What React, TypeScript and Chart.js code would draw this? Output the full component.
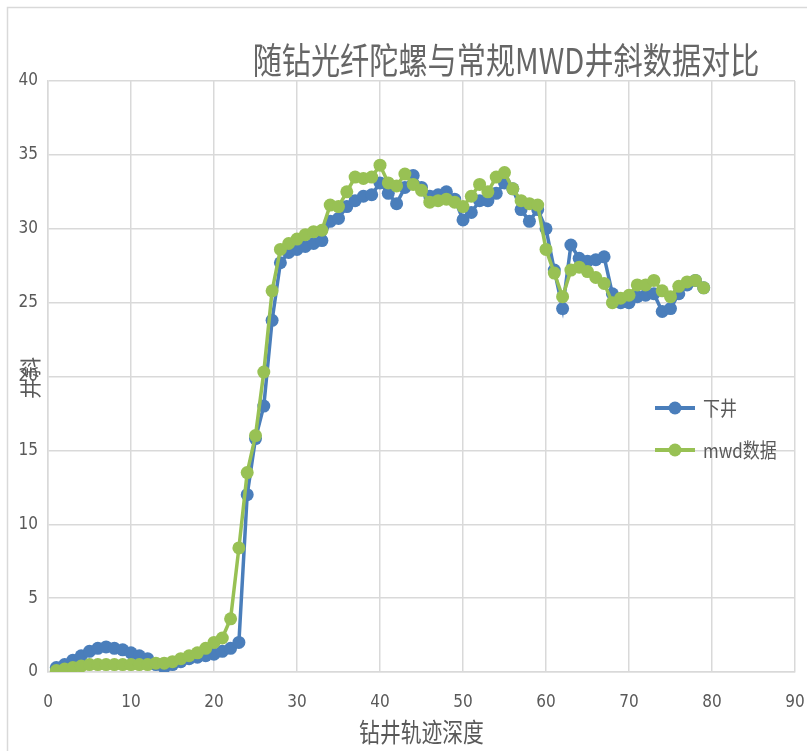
import { useEffect, useRef } from 'react';
import { Chart, registerables } from 'chart.js';

Chart.register(...registerables);

const chartTitle = '随钻光纤陀螺与常规MWD井斜数据对比';
const xAxisTitle = '钻井轨迹深度';
const yAxisTitle = '井斜';
const seriesNames = ['下井', 'mwd数据'];
const seriesColors = ['#4a7ebb', '#98c154'];

const depth = [
  1, 2, 3, 4, 5, 6, 7, 8, 9, 10,
  11, 12, 13, 14, 15, 16, 17, 18, 19, 20,
  21, 22, 23, 24, 25, 26, 27, 28, 29, 30,
  31, 32, 33, 34, 35, 36, 37, 38, 39, 40,
  41, 42, 43, 44, 45, 46, 47, 48, 49, 50,
  51, 52, 53, 54, 55, 56, 57, 58, 59, 60,
  61, 62, 63, 64, 65, 66, 67, 68, 69, 70,
  71, 72, 73, 74, 75, 76, 77, 78, 79,
];

const downhole = [
  0.3, 0.5, 0.8, 1.1, 1.4, 1.6, 1.7, 1.6, 1.5, 1.3,
  1.1, 0.9, 0.5, 0.3, 0.5, 0.7, 0.9, 1.0, 1.1, 1.2,
  1.4, 1.6, 2.0, 12.0, 15.8, 18.0, 23.8, 27.7, 28.4, 28.6,
  28.8, 29.0, 29.2, 30.5, 30.7, 31.5, 31.9, 32.2, 32.3, 33.1,
  32.4, 31.7, 32.8, 33.6, 32.8, 32.2, 32.3, 32.5, 32.0, 30.6,
  31.1, 31.9, 31.9, 32.4, 33.1, 32.7, 31.3, 30.5, 31.3, 30.0,
  27.2, 24.6, 28.9, 28.0, 27.8, 27.9, 28.1, 25.6, 25.0, 25.0,
  25.4, 25.5, 25.6, 24.4, 24.6, 25.6, 26.2, 26.5, 26.0,
];

const mwd = [
  0.1, 0.2, 0.3, 0.4, 0.5, 0.5, 0.5, 0.5, 0.5, 0.5,
  0.5, 0.5, 0.6, 0.6, 0.7, 0.9, 1.1, 1.3, 1.6, 2.0,
  2.3, 3.6, 8.4, 13.5, 16.0, 20.3, 25.8, 28.6, 29.0, 29.3,
  29.6, 29.8, 29.9, 31.6, 31.5, 32.5, 33.5, 33.4, 33.5, 34.3,
  33.1, 32.9, 33.7, 33.0, 32.6, 31.8, 31.9, 32.0, 31.8, 31.5,
  32.2, 33.0, 32.5, 33.5, 33.8, 32.7, 31.9, 31.7, 31.6, 28.6,
  27.0, 25.4, 27.2, 27.4, 27.1, 26.7, 26.3, 25.0, 25.3, 25.5,
  26.2, 26.2, 26.5, 25.8, 25.4, 26.1, 26.4, 26.5, 26.0,
];

const CJK = '"Noto Sans CJK SC", "Noto Sans", sans-serif';
const NUM = '"Liberation Sans Narrow", "DejaVu Sans Condensed", "Liberation Sans", sans-serif';
const TEXT = '#595959';
const GRID = '#d9d9d9';

function drawText(
  ctx: CanvasRenderingContext2D,
  text: string,
  x: number,
  y: number,
  size: number,
  color: string,
  scaleX: number,
  align: CanvasTextAlign,
  rotate = 0,
) {
  ctx.save();
  ctx.translate(x, y);
  if (rotate) ctx.rotate(rotate);
  ctx.scale(scaleX, 1);
  ctx.font = `${size}px ${CJK}`;
  ctx.fillStyle = color;
  ctx.textAlign = align;
  ctx.textBaseline = 'middle';
  ctx.fillText(text, 0, 0);
  ctx.restore();
}

const decor = {
  id: 'decor',
  beforeDraw(chart: any) {
    const ctx = chart.ctx as CanvasRenderingContext2D;
    ctx.save();
    ctx.fillStyle = '#ffffff';
    ctx.fillRect(0, 0, chart.width, chart.height);
    ctx.strokeStyle = GRID;
    ctx.lineWidth = 1.5;
    ctx.strokeRect(7.5, 7.5, chart.width + 20, chart.height + 20);
    ctx.restore();
  },
  afterDraw(chart: any) {
    const ctx = chart.ctx as CanvasRenderingContext2D;
    const area = chart.chartArea;
    drawText(ctx, chartTitle, 506, 60, 36, '#666666', 0.81, 'center');
    drawText(ctx, xAxisTitle, (area.left + area.right) / 2, 732, 26, TEXT, 0.8, 'center');
    drawText(ctx, yAxisTitle, 30, 378, 21, TEXT, 1, 'center', -Math.PI / 2);

    const items = chart.data.datasets;
    const legendYs = [408, 450];
    items.forEach((ds: any, i: number) => {
      const y = legendYs[i];
      ctx.save();
      ctx.strokeStyle = ds.borderColor;
      ctx.lineWidth = 4;
      ctx.beginPath();
      ctx.moveTo(655, y);
      ctx.lineTo(695, y);
      ctx.stroke();
      ctx.fillStyle = ds.borderColor;
      ctx.beginPath();
      ctx.arc(675, y, 6.5, 0, Math.PI * 2);
      ctx.fill();
      ctx.restore();
      drawText(ctx, ds.label, 703, y, 20, TEXT, 0.85, 'left');
    });
  },
};

export default function App() {
  const ref = useRef<HTMLCanvasElement>(null);

  useEffect(() => {
    if (!ref.current) return;
    const tickFont = { family: NUM, size: 17 };
    const mk = (values: number[], i: number, order: number) => ({
      label: seriesNames[i],
      data: depth.map((x, k) => ({ x, y: values[k] })),
      borderColor: seriesColors[i],
      backgroundColor: seriesColors[i],
      pointBackgroundColor: seriesColors[i],
      pointBorderColor: seriesColors[i],
      pointBorderWidth: 0,
      pointRadius: 6.5,
      pointHoverRadius: 6.5,
      borderWidth: 3.5,
      tension: 0,
      order,
    });
    const chart = new Chart(ref.current, {
      type: 'line',
      data: {
        datasets: [mk(downhole, 0, 1), mk(mwd, 1, 0)],
      },
      options: {
        responsive: false,
        animation: false,
        devicePixelRatio: 1,
        layout: { padding: { top: 81, right: 12, left: 0, bottom: 0 } },
        plugins: {
          legend: { display: false },
          title: { display: false },
          tooltip: { enabled: false },
        },
        scales: {
          x: {
            type: 'linear',
            min: 0,
            max: 90,
            ticks: {
              stepSize: 10,
              autoSkip: false,
              maxRotation: 0,
              font: tickFont,
              color: TEXT,
              padding: 20,
            },
            grid: { color: GRID, lineWidth: 1.5, drawTicks: false },
            border: { color: GRID, width: 1.5 },
            afterFit: (s: any) => {
              s.height = 79;
              s.paddingLeft = 0;
              s.paddingRight = 0;
            },
          },
          y: {
            type: 'linear',
            min: 0,
            max: 40,
            ticks: {
              stepSize: 5,
              autoSkip: false,
              font: tickFont,
              color: TEXT,
              padding: 10,
            },
            grid: { color: GRID, lineWidth: 1.5, drawTicks: false },
            border: { color: GRID, width: 1.5 },
            afterFit: (s: any) => {
              s.width = 48;
              s.paddingTop = 0;
              s.paddingBottom = 0;
            },
          },
        },
      },
      plugins: [decor],
    } as any);
    return () => chart.destroy();
  }, []);

  return (
    <div style={{ position: 'absolute', left: 0, top: 0, width: 807, height: 751, background: '#fff' }}>
      <canvas ref={ref} width={807} height={751} style={{ display: 'block', width: 807, height: 751 }} />
    </div>
  );
}
